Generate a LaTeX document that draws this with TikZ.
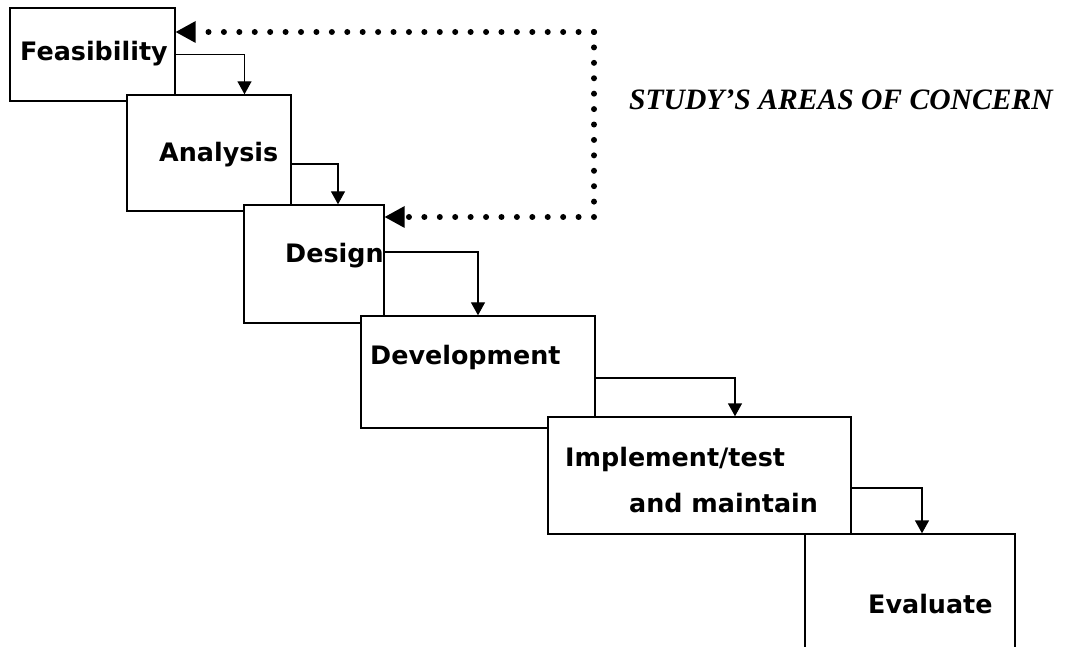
\documentclass[tikz,border=0pt]{standalone}
\usepackage{fontspec}
\newfontfamily\stagefont{DejaVu Sans}
\newfontfamily\notefont{Liberation Serif}
\usetikzlibrary{arrows.meta,calc}
\begin{document}
\begin{tikzpicture}[x=1pt,y=-1pt,
  stagebox/.style={draw=black, line width=1.4pt, fill=white, rectangle, inner sep=0pt},
  stagetext/.style={anchor=base west, inner sep=0pt,
    font=\stagefont\bfseries\fontsize{25.4}{30}\selectfont},
  flow/.style={draw=black, line width=1.4pt,
    -{Triangle[length=13pt,width=14pt]}},
  loopline/.style={line width=6pt, line cap=round,
    dash pattern=on 0pt off 15.42pt},
  looptip/.style={-{Triangle[length=20pt,width=22pt,line width=0pt]}},
]
\useasboundingbox (0,0) rectangle (1085,647);
\clip (0,0) rectangle (1085,647);

% stages, each one laid over the previous
\node[stagebox, minimum width=165pt, minimum height=93pt]  (feas) at (92.5,54.5) {};
\node[stagebox, minimum width=164pt, minimum height=116pt] (anal) at (209,153) {};
\node[stagebox, minimum width=140pt, minimum height=118pt] (des)  at (314,264) {};
\node[stagebox, minimum width=234pt, minimum height=112pt] (dev)  at (478,372) {};
\node[stagebox, minimum width=303pt, minimum height=117pt] (impl) at (699.5,475.5) {};
\node[stagebox, minimum width=210pt, minimum height=146pt] (eval) at (910,607) {};

% stage names
\node[stagetext] (feasT)  at (20,61)   {Feasibility};
\node[stagetext] (analT)  at (159,162) {Analysis};
\node[stagetext] (desT)   at (285,263) {Design};
\node[stagetext] (devT)   at (370,364) {Development};
\node[stagetext] (implT)  at (565,466) {Implement/test};
\node[stagetext] (implT2) at (629,512) {and maintain};
\node[stagetext] (evalT)  at (868,613) {Evaluate};

% flow from one stage to the next
\draw[flow] (feas.east) -| ($(anal.north)+(35.5,0)$);
\draw[flow] ($(anal.east)+(0,11)$) -| ($(des.north)+(24,0)$);
\draw[flow] ($(des.east)+(0,-12)$) -| (dev.north);
\draw[flow] ($(dev.east)+(0,6)$) -| ($(impl.north)+(35.5,0)$);
\draw[flow] ($(impl.east)+(0,12.5)$) -| ($(eval.north)+(12,0)$);

% dotted feedback loop from design back to feasibility
\coordinate (turnA) at (594,32);
\coordinate (turnB) at (594,217);
\draw[loopline] (turnA) -- (turnB);
\draw[loopline, looptip] (turnA) -- (feas.east |- turnA);
\draw[loopline, looptip] (turnB) -- (des.east |- turnB);

\node[anchor=base west, inner sep=0pt,
  font=\notefont\bfseries\itshape\fontsize{29.6}{34}\selectfont]
  (note) at (629,110) {STUDY’S AREAS OF CONCERN};
\end{tikzpicture}
\end{document}
